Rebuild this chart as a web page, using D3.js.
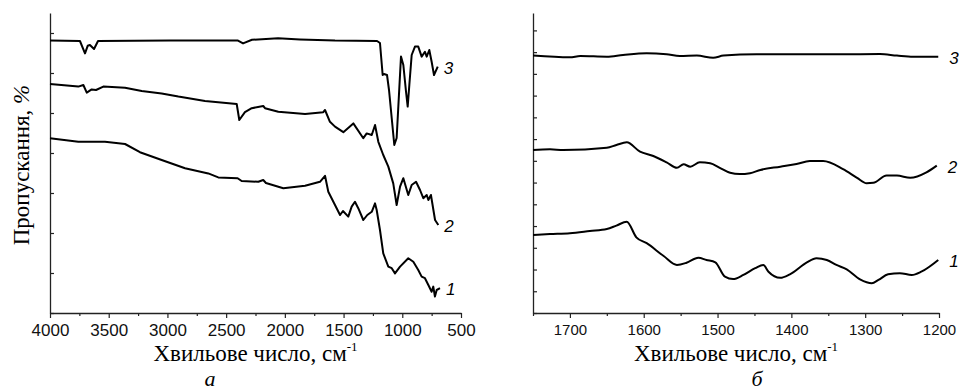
<!DOCTYPE html>
<html>
<head>
<meta charset="utf-8">
<script src="https://cdn.jsdelivr.net/npm/d3@7"></script>
<style>
  body { margin: 0; background: #fff; }
</style>
</head>
<body>
<div id="chart"></div>
<script>
// panel a: full IR range, wavenumber (cm-1) and transmittance (a.u.)
const aWave1 = [4000, 3759, 3532, 3361, 3234, 3049, 2850, 2652, 2567, 2402, 2368, 2226, 2184, 2161, 2013, 1828, 1701, 1658, 1630, 1616, 1573, 1530, 1505, 1460, 1431, 1403, 1375, 1332, 1298, 1260, 1232, 1218, 1190, 1162, 1119, 1090, 1062, 1019, 949, 906, 864, 835, 807, 778, 750, 736, 722, 707, 679]
const aTrans1 = [43.7, 42.8, 42.8, 42.25, 40.2, 38.25, 36.2, 34.9, 33.9, 33.7, 33, 32.8, 33.25, 32.5, 31.2, 31.8, 32.8, 34.3, 30.3, 29.5, 27, 24.5, 25.5, 24.1, 26.6, 27.8, 26.2, 23.25, 24.5, 25.3, 27.4, 25.75, 20.75, 14.9, 11.6, 11.2, 9.9, 11.6, 13.7, 12.8, 10.75, 9.1, 8.7, 7, 5.3, 6.6, 4.1, 5.75, 6.2]

const aWave2 = [4000, 3759, 3716, 3687, 3645, 3608, 3546, 3361, 3219, 3049, 2907, 2680, 2410, 2388, 2340, 2282, 2184, 2169, 2056, 1828, 1673, 1658, 1616, 1573, 1502, 1417, 1332, 1303, 1260, 1232, 1204, 1162, 1119, 1077, 1048, 1019, 991, 949, 920, 883, 849, 821, 792, 778, 756, 721, 693]
const aTrans2 = [57.25, 56.6, 57, 55.1, 55.9, 55.75, 56.6, 56.3, 55.5, 54.9, 54.1, 53, 52.25, 48.25, 50.2, 51.2, 51.75, 51.2, 50.3, 49.75, 50.2, 50.75, 47.8, 46.6, 45.2, 47.4, 43.7, 44.9, 44.5, 47, 42.8, 39.5, 36.6, 32.4, 27, 31.6, 33.7, 29.5, 32, 32.8, 30.75, 28.7, 29.5, 28.25, 29.5, 23.25, 22]

const aWave3 = [4000, 3745, 3702, 3679, 3660, 3625, 3591, 2978, 2399, 2356, 2280, 2058, 1871, 1573, 1215, 1190, 1167, 1156, 1130, 1113, 1068, 1048, 1011, 991, 968, 954, 940, 920, 892, 864, 835, 807, 792, 770, 750, 730, 698]
const aTrans3 = [68.1, 68, 64.9, 66.8, 67, 66, 68, 68.1, 68.1, 67.4, 68.3, 68.7, 68.4, 68.1, 68, 67.5, 59.5, 59.75, 59.5, 55.75, 42, 43.75, 64.1, 62, 55.3, 51.6, 57, 64.5, 66.6, 66.6, 64.1, 65.3, 64.1, 65.75, 62.8, 59.5, 61.6]

// panel b: 1750-1200 cm-1 region
const bWave1 = [1750, 1727, 1700, 1673, 1650, 1637, 1623, 1610, 1596, 1573, 1555, 1542, 1526, 1515, 1503, 1490, 1479, 1465, 1449, 1438, 1431, 1415, 1402, 1379, 1366, 1352, 1339, 1325, 1307, 1291, 1282, 1269, 1253, 1237, 1224, 1201]
const bTrans1 = [35.9, 36.3, 36.7, 37.7, 38.6, 40.2, 42, 34.8, 32.1, 26.2, 22.1, 23.1, 25.4, 24.4, 23.3, 16.7, 15.6, 17.5, 20.6, 22.1, 19, 16.2, 17.8, 23.3, 25.2, 24.4, 22.1, 20.1, 15.5, 13.7, 15.2, 17.8, 18.3, 17.5, 19, 24.4]

const bWave2 = [1750, 1727, 1709, 1650, 1637, 1623, 1605, 1587, 1569, 1555, 1546, 1537, 1524, 1510, 1497, 1483, 1470, 1456, 1442, 1415, 1393, 1375, 1357, 1330, 1311, 1298, 1289, 1271, 1257, 1239, 1217, 1203]
const bTrans2 = [75, 75.3, 75, 76, 77.3, 78.5, 74.2, 72.2, 69.3, 66.8, 68.4, 67.3, 69.3, 68.9, 66.8, 64.5, 63.9, 64.3, 65.8, 67.3, 68.5, 69.9, 69.9, 66.2, 62.2, 59.7, 59.9, 63.2, 63.2, 62.2, 64.7, 67.8]

const bWave3 = [1750, 1700, 1686, 1650, 1628, 1596, 1569, 1551, 1528, 1506, 1492, 1447, 1415, 1370, 1325, 1280, 1257, 1235, 1201]
const bTrans3 = [118.4, 117.6, 118.2, 117.9, 118.7, 119.5, 119, 118.2, 118.4, 117.4, 118.4, 119, 119, 119, 119, 119.1, 118.4, 117.9, 117.9]

const curveNames = ['1', '2', '3']
const xTitle = 'Хвильове число, см'
const yTitle = 'Пропускання, '
const panelLetters = ['а', 'б']

const serif = "'Liberation Serif', 'Times New Roman', serif"
const sans = "'Liberation Sans', Arial, sans-serif"

const zip = (w, t) => w.map((d, i) => [d, t[i]])

const svg = d3.select('#chart').append('svg')
  .attr('width', 959)
  .attr('height', 392)

function drawPanel ({ left, right, top, bottom, xDomain, major, minor, yMax, curves, smooth, tickFont, letter, letterX, labelDx }) {
  const x = d3.scaleLinear().domain(xDomain).range([left, right])
  const y = d3.scaleLinear().domain([0, yMax]).range([bottom, top])
  const lo = Math.min(...xDomain)
  const hi = Math.max(...xDomain)

  // minor x ticks
  svg.append('g')
    .attr('transform', `translate(0,${bottom})`)
    .call(d3.axisBottom(x)
      .tickValues(d3.range(lo, hi + 1, minor).filter(v => v % major !== 0))
      .tickSize(3)
      .tickFormat(''))
    .call(g => g.select('.domain').remove())
    .call(g => g.selectAll('line').attr('stroke', '#222').attr('stroke-width', 1.2))

  // major x ticks + labels
  svg.append('g')
    .attr('transform', `translate(0,${bottom})`)
    .call(d3.axisBottom(x)
      .tickValues(d3.range(lo, hi + 1, major))
      .tickSize(5)
      .tickSizeOuter(0)
      .tickPadding(6)
      .tickFormat(d3.format('d')))
    .call(g => g.select('.domain').attr('stroke', '#222').attr('stroke-width', 1.3))
    .call(g => g.selectAll('line').attr('stroke', '#222').attr('stroke-width', 1.2))
    .call(g => g.selectAll('text')
      .attr('fill', '#111')
      .attr('font-family', sans)
      .attr('font-size', tickFont))

  // y axis, inward ticks, no labels
  svg.append('g')
    .attr('transform', `translate(${left},0)`)
    .call(d3.axisLeft(y)
      .tickValues(d3.range(0, yMax, 10))
      .tickSize(-4)
      .tickSizeOuter(0)
      .tickFormat(''))
    .call(g => g.select('.domain').attr('stroke', '#222').attr('stroke-width', 1.3))
    .call(g => g.selectAll('line').attr('stroke', '#222').attr('stroke-width', 1.2))

  const line = d3.line()
    .x(d => x(d[0]))
    .y(d => y(d[1]))
    .curve(smooth ? d3.curveMonotoneX : d3.curveLinear)

  curves.forEach((c, i) => {
    svg.append('path')
      .datum(c)
      .attr('fill', 'none')
      .attr('stroke', '#000')
      .attr('stroke-width', 2)
      .attr('stroke-linejoin', 'round')
      .attr('d', line)

    const last = c[c.length - 1]
    svg.append('text')
      .attr('x', x(last[0]) + labelDx)
      .attr('y', y(last[1]) + 1)
      .attr('dy', '0.35em')
      .attr('font-family', sans)
      .attr('font-style', 'italic')
      .attr('font-size', 17)
      .text(curveNames[i])
  })

  const title = svg.append('text')
    .attr('x', (left + right) / 2)
    .attr('y', 361)
    .attr('text-anchor', 'middle')
    .attr('font-family', serif)
    .attr('font-size', 23)
    .text(xTitle)
  title.append('tspan')
    .attr('dy', -10)
    .attr('font-size', 13)
    .text('-1')

  svg.append('text')
    .attr('x', letterX)
    .attr('y', 386)
    .attr('text-anchor', 'middle')
    .attr('font-family', serif)
    .attr('font-style', 'italic')
    .attr('font-size', 22)
    .text(letter)
}

drawPanel({
  left: 50, right: 461, top: 13, bottom: 313,
  xDomain: [4000, 500], major: 500, minor: 250, yMax: 75,
  curves: [zip(aWave1, aTrans1), zip(aWave2, aTrans2), zip(aWave3, aTrans3)],
  smooth: false, tickFont: 17, letter: panelLetters[0], letterX: 210, labelDx: 6
})

drawPanel({
  left: 533, right: 939, top: 13, bottom: 313,
  xDomain: [1750, 1200], major: 100, minor: 50, yMax: 138,
  curves: [zip(bWave1, bTrans1), zip(bWave2, bTrans2), zip(bWave3, bTrans3)],
  smooth: true, tickFont: 15, letter: panelLetters[1], letterX: 757, labelDx: 11
})

svg.append('text')
  .attr('transform', 'translate(29,165) rotate(-90)')
  .attr('text-anchor', 'middle')
  .attr('font-family', serif)
  .attr('font-size', 23)
  .text(yTitle)
  .append('tspan')
  .attr('font-style', 'italic')
  .text('%')
</script>
</body>
</html>
